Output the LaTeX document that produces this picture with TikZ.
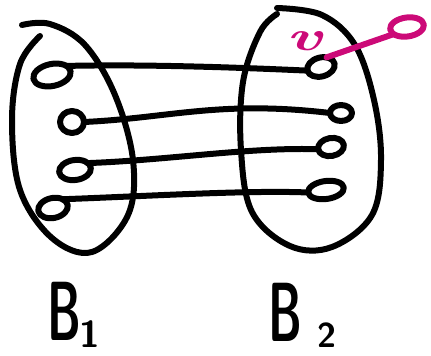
\documentclass[tikz,border=0pt]{standalone}
\usetikzlibrary{shapes.geometric}
\definecolor{mag}{HTML}{CC0A78}
\begin{document}
\begin{tikzpicture}[x=1pt,y=-1pt,
  pen/.style={line width=6pt,line cap=round,line join=round},
  vert/.style={ellipse,draw,pen,inner sep=0pt,outer sep=0pt},
  lbl/.style={inner sep=0pt,font=\sffamily\bfseries}]
\useasboundingbox (0,0) rectangle (431,356);
% blobs
\draw[pen] plot[smooth,tension=0.6] coordinates {(22,25) (50,24) (85,45) (115,95) (133,160) (128,215) (92,252) (52,238) (20,190) (12,120) (20,64) (40,36)};
\draw[pen] plot[smooth,tension=0.6] coordinates {(277,8) (322,15) (355,45) (374,100) (381,160) (372,215) (332,247) (290,246) (252,212) (241,150) (243,82) (260,32) (277,14)};
% vertices
\node[vert,minimum width=38pt,minimum height=22pt,rotate=12] (l1) at (52,75) {};
\node[vert,minimum width=24pt,minimum height=22pt] (l2) at (72,122) {};
\node[vert,minimum width=32pt,minimum height=20pt,rotate=8] (l3) at (75,170) {};
\node[vert,minimum width=30pt,minimum height=20pt,rotate=12] (l4) at (53,208) {};
\node[vert,minimum width=28pt,minimum height=19pt,rotate=15] (r1) at (321,67) {};
\node[vert,minimum width=22pt,minimum height=16pt] (r2) at (341,113) {};
\node[vert,minimum width=26pt,minimum height=18pt,rotate=10] (r3) at (331,147) {};
\node[vert,minimum width=36pt,minimum height=18pt,rotate=8] (r4) at (326,190) {};
\node[vert,mag,minimum width=34pt,minimum height=19pt,rotate=8] (m) at (407,27) {};
% edges
\draw[pen] (l1.20) .. controls (150,64) and (250,68) .. (r1.west);
\draw[pen] (l2.east) .. controls (170,118) and (220,100) .. (r2.west);
\draw[pen] (l3.20) .. controls (170,160) and (250,147) .. (r3.west);
\draw[pen] (l4.30) .. controls (150,196) and (250,190) .. (r4.west);
\draw[pen,mag] (r1.45) -- (m.200);
% labels
\node[lbl,text=mag] (v) at (304,41) {\scalebox{1.6}[1]{\fontsize{42}{42}\selectfont\rmfamily\itshape\bfseries v}};
\node[lbl] (B1) at (64,311) {\scalebox{0.55}[1]{\fontsize{84}{84}\selectfont B}};
\node[lbl] (s1) at (90,334) {\scalebox{1.25}{\fontsize{30}{30}\selectfont 1}};
\node[lbl] (B2) at (285,312) {\scalebox{0.55}[1]{\fontsize{84}{84}\selectfont B}};
\node[lbl] (s2) at (327,335) {\scalebox{1.15}{\fontsize{30}{30}\selectfont 2}};
\end{tikzpicture}
\end{document}
